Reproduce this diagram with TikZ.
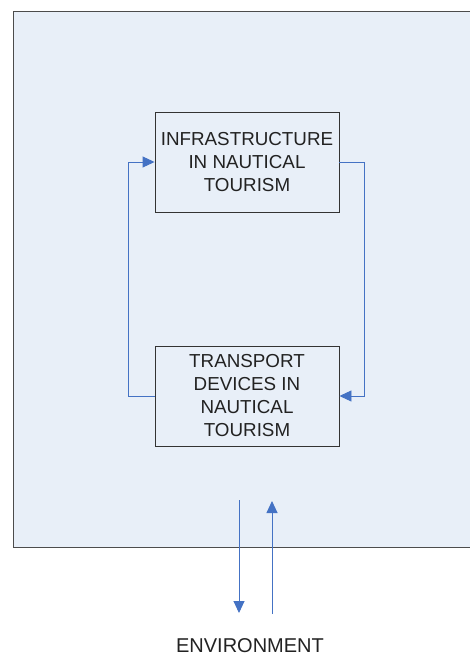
\documentclass[tikz,border=0pt]{standalone}
\usepackage{fontspec}
\setmainfont{Liberation Sans}
\usetikzlibrary{arrows.meta}
\definecolor{bgblue}{HTML}{E8EFF8}
\definecolor{conncol}{HTML}{4472C4}
\definecolor{boxline}{HTML}{333333}
\definecolor{txt}{HTML}{222222}
\tikzset{
  x=1pt,y=1pt,
  box/.style={draw=boxline,line width=0.9pt,fill=bgblue,minimum width=184pt,minimum height=100pt,
    align=center,text=txt,font=\fontsize{18.8}{23}\selectfont,inner sep=2pt},
  conn/.style={draw=conncol,line width=0.9pt,-{Triangle[length=12pt,width=11pt]}},
  envtext/.style={text=txt,font=\fontsize{20}{24}\selectfont}
}
\begin{document}
\begin{tikzpicture}
\useasboundingbox (0,0) rectangle (470,-656);
\fill[bgblue] (13,-11) rectangle (471,-547);
\draw[draw=black!70,line width=1pt] (471,-11) -- (13,-11) -- (13,-547) -- (471,-547);
\node[box] (top) at (247,-162) {INFRASTRUCTURE\\IN NAUTICAL\\TOURISM};
\node[box] (bot) at (247,-396) {TRANSPORT\\DEVICES IN\\NAUTICAL\\TOURISM};
\draw[conn] (bot.west) -- ([xshift=-26pt]bot.west) |- (top.west);
\draw[conn] (top.east) -- ([xshift=25pt]top.east) |- (bot.east);
\node[envtext] (env) at (250,-646) {ENVIRONMENT};
\coordinate (d1) at (239,-500);
\coordinate (d2) at (239,-613);
\coordinate (u1) at (272,-614);
\coordinate (u2) at (272,-501);
\draw[conn] (d1) -- (d2);
\draw[conn] (u1) -- (u2);
\end{tikzpicture}
\end{document}
